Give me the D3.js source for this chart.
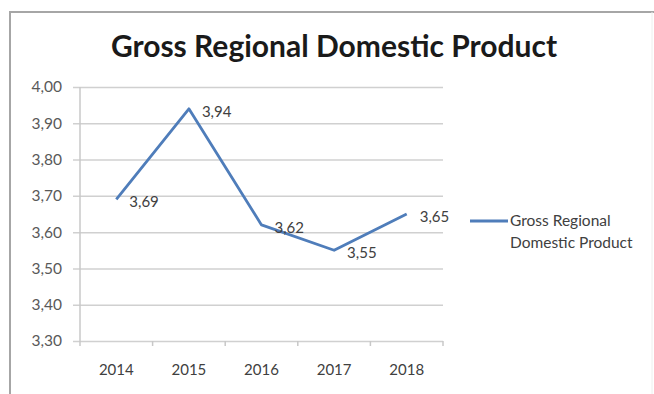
<!DOCTYPE html>
<html lang="en">
<head>
  <meta charset="UTF-8">
  <title>Gross Regional Domestic Product</title>
  <script src="https://d3js.org/d3.v7.min.js"></script>
  <style>
    body { margin: 0; background: #fff; }
    text { font-family: Lato, "Open Sans", sans-serif; }
  </style>
</head>
<body>
  <div id="chart"></div>
  <script>
    // data
    const years = ["2014", "2015", "2016", "2017", "2018"];
    const grdp = [3.69, 3.94, 3.62, 3.55, 3.65];
    const yTicks = [3.30, 3.40, 3.50, 3.60, 3.70, 3.80, 3.90, 4.00];
    const seriesName = "Gross Regional Domestic Product";
    const legendLines = ["Gross Regional", "Domestic Product"];

    const W = 654, H = 394;
    const fmt = v => d3.format(".2f")(v).replace(".", ",");

    const svg = d3.select("#chart").append("svg")
      .attr("width", W).attr("height", H);

    // frame of the chart area: top and left edges visible
    svg.append("path")
      .attr("d", `M10,${H} V12 H${W}`)
      .attr("fill", "none")
      .attr("stroke", "#a6a6a6").attr("stroke-width", 2);
    svg.append("line")
      .attr("x1", W - 2).attr("x2", W - 2)
      .attr("y1", 12).attr("y2", H)
      .attr("stroke", "#eeeeee").attr("stroke-width", 1);

    svg.append("text")
      .attr("x", 334).attr("y", 57)
      .attr("text-anchor", "middle")
      .attr("font-size", 30).attr("font-weight", "bold")
      .attr("fill", "#1a1a1a")
      .text(seriesName);

    const x = d3.scaleBand().domain(years).range([80, 443]);
    const y = d3.scaleLinear().domain([3.3, 4.0]).range([341, 87]);

    // gridlines + y labels
    const yAxis = svg.append("g")
      .attr("transform", "translate(80,0)")
      .call(d3.axisLeft(y).tickValues(yTicks).tickFormat(fmt)
        .tickSize(-(443 - 80)).tickPadding(18));
    yAxis.select(".domain").remove();
    yAxis.selectAll(".tick line")
      .attr("x1", -7)
      .attr("stroke", "#d0d0d0").attr("stroke-width", 1.5);
    yAxis.selectAll(".tick text")
      .attr("font-size", 15.5).attr("fill", "#595959")
      .attr("font-family", "Lato, sans-serif");

    // vertical axis line
    svg.append("line")
      .attr("x1", 80).attr("x2", 80)
      .attr("y1", y(4.0)).attr("y2", y(3.3))
      .attr("stroke", "#c8c8c8").attr("stroke-width", 1.5);

    // x axis ticks at category borders
    const xAxis = svg.append("g")
      .attr("transform", `translate(0,${y(3.3)})`)
      .call(d3.axisBottom(x).tickSize(0).tickPadding(23));
    xAxis.select(".domain").remove();
    xAxis.selectAll(".tick text")
      .attr("font-size", 15).attr("fill", "#404040")
      .attr("font-family", "Lato, sans-serif");
    const borders = years.map(d => x(d)).concat([x.range()[1]]);
    xAxis.selectAll(".border")
      .data(borders)
      .enter().append("line")
      .attr("x1", d => d).attr("x2", d => d)
      .attr("y1", 0).attr("y2", 5)
      .attr("stroke", "#c8c8c8").attr("stroke-width", 1.5);

    const cx = d => x(d) + x.bandwidth() / 2;
    const points = years.map((d, i) => ({ year: d, value: grdp[i] }));

    svg.append("path")
      .datum(points)
      .attr("fill", "none")
      .attr("stroke", "#4f7dba")
      .attr("stroke-width", 2.8)
      .attr("stroke-linejoin", "round")
      .attr("d", d3.line().x(d => cx(d.year)).y(d => y(d.value)));

    svg.selectAll(".lbl")
      .data(points)
      .enter().append("text")
      .attr("x", d => cx(d.year) + 13)
      .attr("y", d => y(d.value) + 8)
      .attr("font-size", 15).attr("fill", "#404040")
      .text(d => fmt(d.value));

    // legend
    svg.append("line")
      .attr("x1", 470).attr("x2", 508)
      .attr("y1", 221).attr("y2", 221)
      .attr("stroke", "#4f7dba").attr("stroke-width", 2.8);
    svg.append("g").selectAll("text")
      .data(legendLines)
      .enter().append("text")
      .attr("x", 510)
      .attr("y", (d, i) => 226 + i * 22)
      .attr("font-size", 15.5).attr("fill", "#404040")
      .text(d => d);
  </script>
</body>
</html>
